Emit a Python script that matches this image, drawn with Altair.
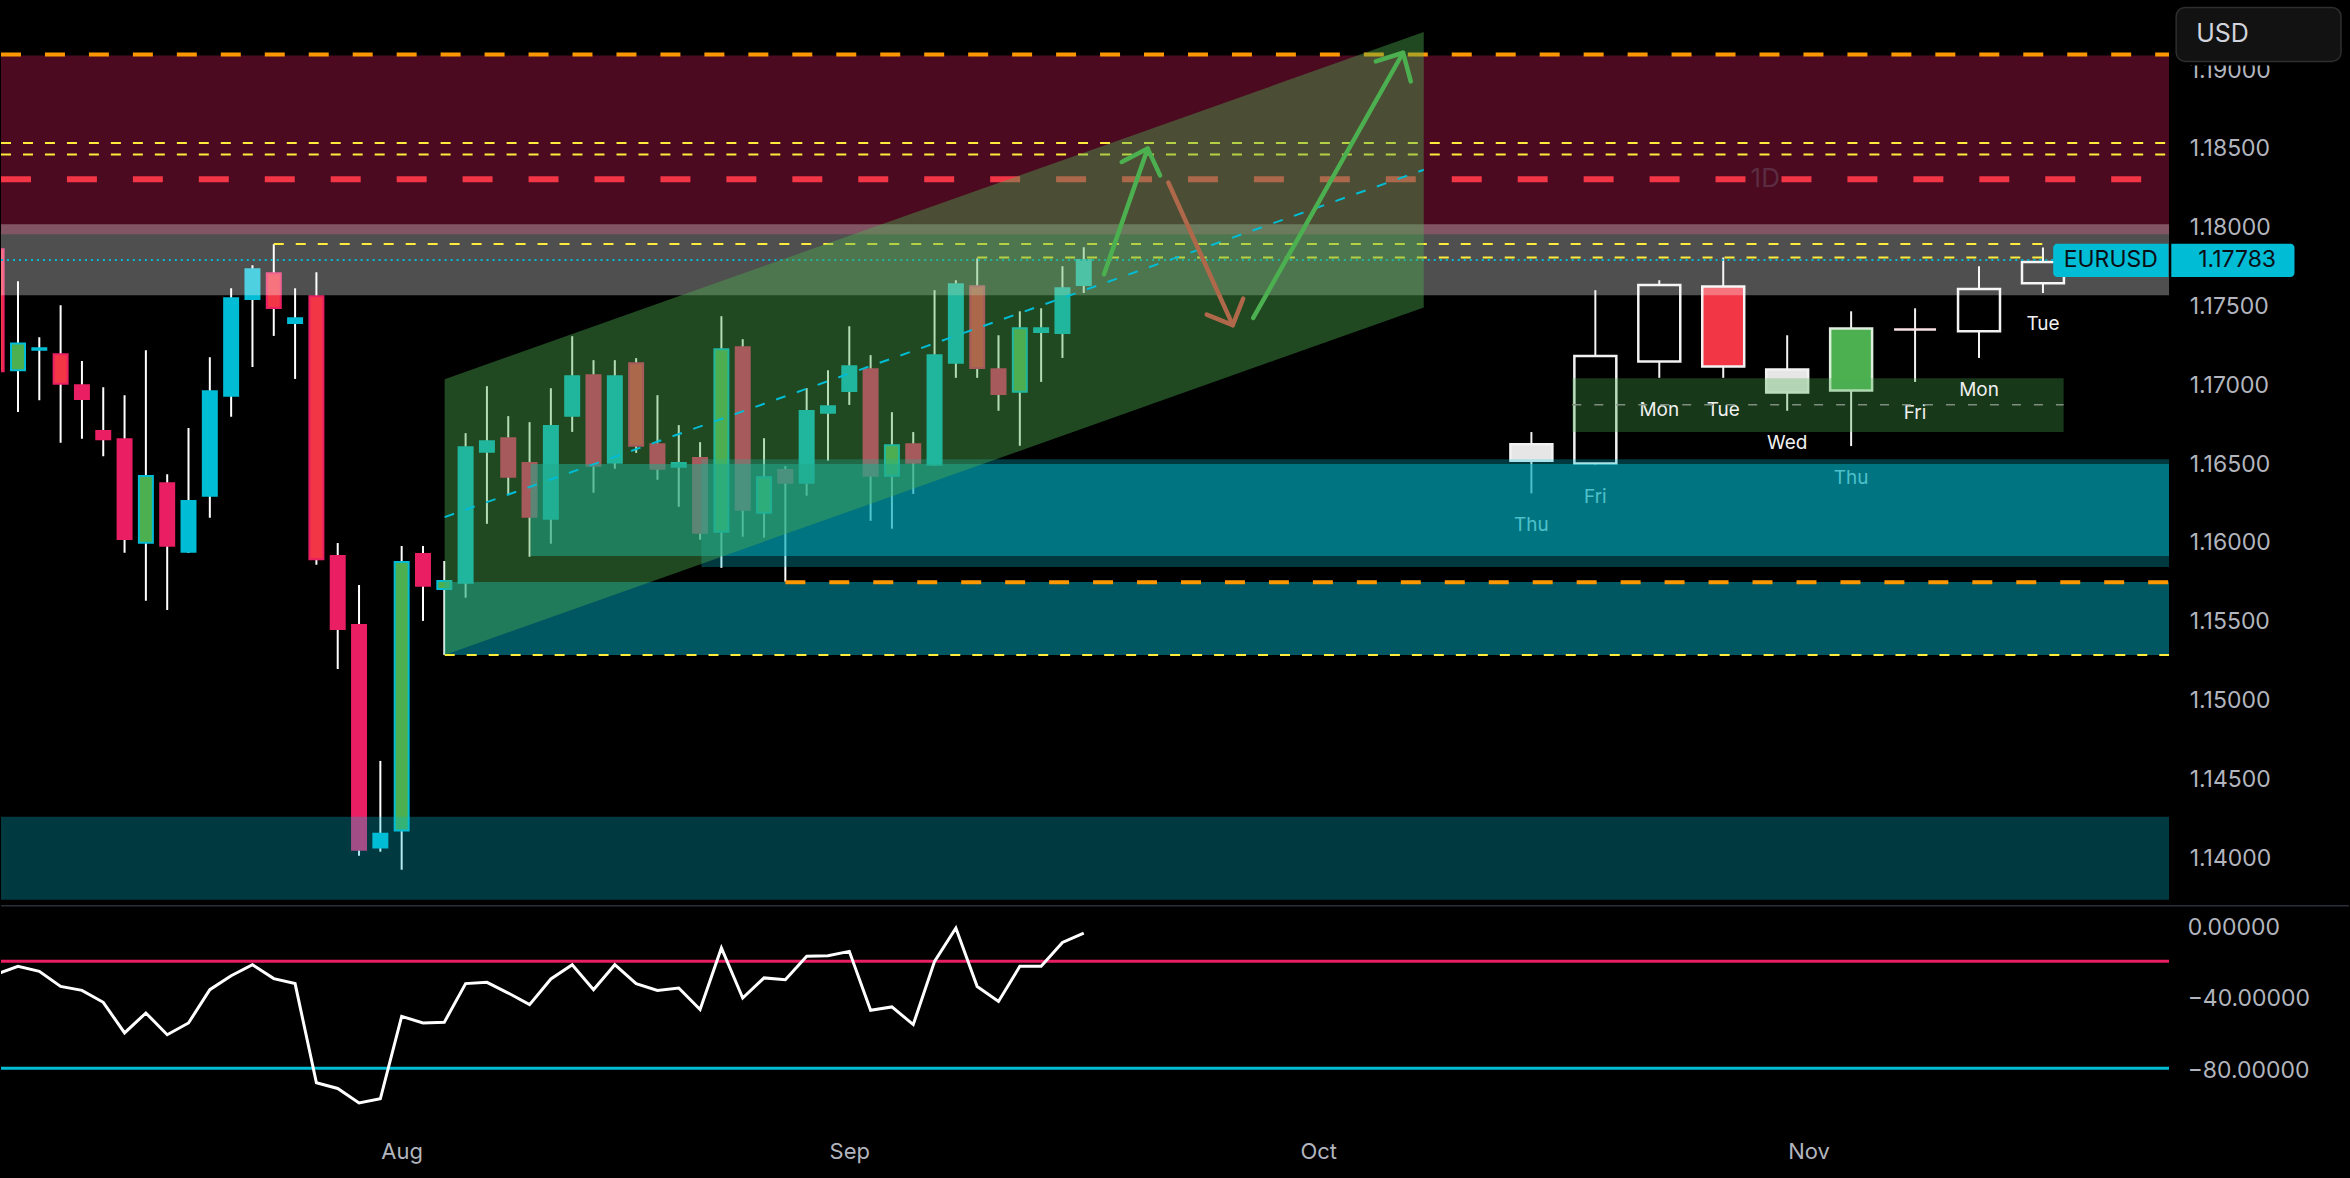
import altair as alt
import pandas as pd

# ---------------- data ----------------
# bar index: 0 = 1 Aug (daily trading bars)
bar_index = list(range(-19, 33))
opens = [1.17850, 1.17083, 1.17213, 1.17185, 1.16988, 1.16697, 1.16646, 1.15989, 1.16367, 1.15932,
         1.16287, 1.16921, 1.17535, 1.17698, 1.17383, 1.17552, 1.15905, 1.15467, 1.14056, 1.14164,
         1.15917, 1.15695, 1.15735, 1.16566, 1.16652, 1.16494, 1.16141, 1.16794, 1.17052, 1.16496,
         1.17128, 1.16614, 1.16471, 1.16526, 1.16059, 1.17229, 1.16179, 1.16450, 1.16369, 1.16813,
         1.16952, 1.17090, 1.16414, 1.16614, 1.16483, 1.17130, 1.17616, 1.17090, 1.16946, 1.17326,
         1.17320, 1.17624]
highs = [1.17939, 1.17648, 1.17293, 1.17495, 1.17141, 1.16976, 1.16925, 1.17210, 1.16424, 1.16716,
         1.17166, 1.17603, 1.17749, 1.17882, 1.17603, 1.17705, 1.15987, 1.15721, 1.14605, 1.15968,
         1.15968, 1.15873, 1.16684, 1.16982, 1.16792, 1.16754, 1.16969, 1.17299, 1.17147, 1.17147,
         1.17160, 1.16925, 1.16735, 1.16627, 1.17426, 1.17280, 1.16652, 1.16475, 1.16969, 1.17083,
         1.17362, 1.17179, 1.16817, 1.16691, 1.17591, 1.17654, 1.17793, 1.17305, 1.17457, 1.17476,
         1.17743, 1.17863]
lows = [1.16988, 1.16819, 1.16893, 1.16623, 1.16648, 1.16538, 1.15925, 1.15621, 1.15562, 1.15924,
        1.16147, 1.16788, 1.17104, 1.17301, 1.17028, 1.15850, 1.15188, 1.14003, 1.14029, 1.13914,
        1.15493, 1.15277, 1.15640, 1.16109, 1.16291, 1.15900, 1.15983, 1.16692, 1.16306, 1.16458,
        1.16559, 1.16388, 1.16217, 1.16008, 1.15830, 1.16027, 1.16021, 1.15742, 1.16287, 1.16509,
        1.16863, 1.16128, 1.16078, 1.16299, 1.16477, 1.17035, 1.17035, 1.16826, 1.16604, 1.17009,
        1.17161, 1.17573]
closes = [1.17077, 1.17253, 1.17222, 1.16997, 1.16900, 1.16646, 1.16012, 1.16412, 1.15970, 1.16253,
          1.16950, 1.17540, 1.17724, 1.17478, 1.17413, 1.15884, 1.15442, 1.14041, 1.14143, 1.15867,
          1.15716, 1.15746, 1.16595, 1.16633, 1.16407, 1.16154, 1.16729, 1.17045, 1.16477, 1.17045,
          1.16604, 1.16458, 1.16494, 1.16052, 1.17217, 1.16198, 1.16405, 1.16369, 1.16824, 1.16855,
          1.17109, 1.16414, 1.16608, 1.16496, 1.17179, 1.17629, 1.17098, 1.16933, 1.17350, 1.17350,
          1.17603, 1.17783]
# u = up (cyan), d = down (pink), g = green highlight, r = red highlight
bar_style = ["r", "g", "u", "r", "d", "d", "d", "g", "d", "u",
             "u", "u", "u", "r", "u", "r", "d", "d", "u", "g",
             "d", "g", "u", "u", "d", "d", "u", "u", "d", "u",
             "r", "d", "u", "d", "g", "d", "g", "d", "u", "u",
             "u", "d", "g", "d", "u", "u", "r", "d", "g", "u",
             "u", "u"]

williams_r = [-27.2, -22.8, -25.6, -34.1, -36.3, -43.0, -60.2, -49.0, -61.2, -54.6,
              -35.9, -28.1, -21.9, -29.7, -32.5, -88.2, -91.4, -99.5, -97.2, -50.9,
              -54.6, -54.2, -32.5, -31.8, -37.8, -44.3, -29.9, -21.9, -35.9, -21.9,
              -32.5, -36.3, -35.0, -47.1, -12.5, -40.6, -29.3, -30.3, -17.2, -16.8,
              -14.4, -47.5, -45.6, -55.5, -20.0, -1.3, -34.1, -42.5, -22.8, -22.8,
              -9.4, -4.1]
osc_levels = [-20, -80]

# projected "bars pattern" on the right
ghost_index = [53, 56, 59, 62, 65, 68, 71, 74, 77]
ghost_high = [1.16691, 1.17591, 1.17654, 1.17798, 1.17305, 1.17457, 1.17476, 1.17743, 1.17861]
ghost_top = [1.16613, 1.17174, 1.17624, 1.17614, 1.17088, 1.17348, 1.17341, 1.17599, 1.17770]
ghost_bot = [1.16509, 1.16492, 1.17139, 1.17107, 1.16942, 1.16955, 1.17341, 1.17331, 1.17635]
ghost_low = [1.16302, 1.16481, 1.17035, 1.17035, 1.16826, 1.16602, 1.17009, 1.17161, 1.17573]
ghost_kind = ["gray", "hollow", "hollow", "red", "gray", "green", "cross", "hollow", "hollow"]
ghost_day = ["Thu", "Fri", "Mon", "Tue", "Wed", "Thu", "Fri", "Mon", "Tue"]
ghost_label_y = [1.16101, 1.16277, 1.16830, 1.16830, 1.16619, 1.16401, 1.16809, 1.16957, 1.17379]

price_ticks = [1.140, 1.145, 1.150, 1.155, 1.160, 1.165, 1.170, 1.175, 1.180, 1.185, 1.190]
osc_ticks = [0, -40, -80]
month_ticks = [0, 21, 43, 66]
month_labels = ["Aug", "Sep", "Oct", "Nov"]
last_price = 1.17783
symbol = "EURUSD"
currency = "USD"

# zones: x from, x to, price low, price high, colour, opacity
X_MIN, X_MAX = -18.797, 82.92
zone_x0 = [X_MIN, X_MIN, 14.06, 6.05, 2.02, X_MIN, 54.92]
zone_x1 = [X_MAX, X_MAX, X_MAX, X_MAX, X_MAX, X_MAX, 77.97]
zone_lo = [1.17945, 1.17559, 1.15835, 1.15905, 1.15277, 1.13725, 1.16692]
zone_hi = [1.19080, 1.18009, 1.16519, 1.16488, 1.15740, 1.14250, 1.17033]
zone_col = ["#E91E63", "#FFFFFF", "#00BCD4", "#00A5B5", "#00BCD4", "#00BCD4", "#4CAF50"]
zone_op = [0.32, 0.31, 0.30, 0.55, 0.46, 0.30, 0.32]

# channel
chan_x = [2.016, 47.95]
chan_top = [1.17026, 1.19228]
chan_bot = [1.15277, 1.17481]

# arrows (segment id, point order, x, price, colour)
arrow_seg = ["a1", "a1", "a1h", "a1h", "a1h", "b1", "b1", "b1h", "b1h", "b1h", "a2", "a2", "a2h", "a2h", "a2h"]
arrow_x = [32.95, 35.0, 33.78, 35.0, 35.58, 35.97, 38.99, 37.77, 38.99, 39.48, 39.95, 46.98, 45.70, 46.98, 47.34]
arrow_p = [1.17692, 1.18489, 1.18404, 1.18489, 1.18319, 1.18273, 1.17369, 1.17436, 1.17369, 1.17538,
           1.17415, 1.19097, 1.19042, 1.19097, 1.18915]
arrow_col = ["#4CAF50"] * 5 + ["#B0684A"] * 5 + ["#4CAF50"] * 5

# ---------------- scales / axes ----------------
FONT = "Inter"
AXIS_COL = "#B2B5BE"
xs = alt.Scale(domain=[X_MIN, X_MAX], nice=False, zero=False)
ys = alt.Scale(domain=[1.136926, 1.194285], nice=False, zero=False)
os_ = alt.Scale(domain=[-117.81, 11.78], nice=False, zero=False)

price_axis = alt.Axis(orient="right", values=price_ticks, format=".5f", title=None, domain=False,
                      ticks=False, tickSize=0, grid=False, labelAlign="left", labelBaseline="middle",
                      labelPadding=20, labelOffset=2, labelColor=AXIS_COL, labelFont=FONT,
                      labelFontSize=23, labelOverlap=False)
osc_axis = alt.Axis(orient="right", values=osc_ticks, format=".5f", title=None, domain=False,
                    ticks=False, tickSize=0, grid=False, labelAlign="left", labelBaseline="middle",
                    labelPadding=18, labelOffset=2, labelColor=AXIS_COL, labelFont=FONT,
                    labelFontSize=23, labelOverlap=False)
expr = "'" + month_labels[-1] + "'"
for t, lab in reversed(list(zip(month_ticks[:-1], month_labels[:-1]))):
    expr = f"datum.value == {t} ? '{lab}' : ({expr})"
time_axis = alt.Axis(values=month_ticks, labelExpr=expr, title=None, domain=False, ticks=False,
                     tickSize=0, grid=False, labelColor=AXIS_COL, labelFont=FONT, labelFontSize=22,
                     labelPadding=16, labelBaseline="middle", labelOverlap=False, labelFlush=False)


def X(f):
    return alt.X(f, type="quantitative", scale=xs, axis=None)


def Y(f):
    return alt.Y(f, type="quantitative", scale=ys, axis=price_axis)


# ---------------- frames ----------------
FILL = {"u": "#00BCD4", "d": "#E91E63", "g": "#4CAF50", "r": "#F23645"}
STROKE = {"u": "#00BCD4", "d": "#E91E63", "g": "#00BCD4", "r": "#E91E63"}
cd = pd.DataFrame({"i": bar_index, "o": opens, "h": highs, "l": lows, "c": closes, "s": bar_style})
cd["x0"] = cd["i"] - 0.328
cd["x1"] = cd["i"] + 0.328
cd["fill"] = cd["s"].map(FILL)
cd["stroke"] = cd["s"].map(STROKE)

GFILL = {"gray": "#E6E6E6", "hollow": "#000000", "red": "#F23645", "green": "#4CAF50", "cross": "#F8E1E4"}
GSTROKE = {"gray": "#F2F2F2", "hollow": "#F2F2F2", "red": "#F2F2F2", "green": "#DDEEDD", "cross": "#F8E1E4"}
gd = pd.DataFrame({"i": ghost_index, "h": ghost_high, "t": ghost_top, "b": ghost_bot, "l": ghost_low,
                   "k": ghost_kind, "day": ghost_day, "ly": ghost_label_y})
gd["x0"] = gd["i"] - 0.984
gd["x1"] = gd["i"] + 0.984
gd["fill"] = gd["k"].map(GFILL)
gd["stroke"] = gd["k"].map(GSTROKE)

zd = pd.DataFrame({"x0": zone_x0, "x1": zone_x1, "lo": zone_lo, "hi": zone_hi, "col": zone_col, "op": zone_op})
zones_main = zd.iloc[:6]
zone_green = zd.iloc[6:]

chd = pd.DataFrame({"i": chan_x, "top": chan_top, "bot": chan_bot})
chd["mid"] = (chd["top"] + chd["bot"]) / 2
ad = pd.DataFrame({"seg": arrow_seg, "i": arrow_x, "p": arrow_p, "col": arrow_col})
ad["k"] = range(len(ad))


def hline(x0, x1, y, color, width, dash):
    df = pd.DataFrame({"x0": [x0], "x1": [x1], "y": [y]})
    return alt.Chart(df).mark_rule(color=color, strokeWidth=width, strokeDash=dash, clip=True).encode(
        x=X("x0"), x2="x1", y=Y("y"))


# ---------------- top panel ----------------
wicks = alt.Chart(cd).mark_rule(color="#FFFFFF", strokeWidth=2, clip=True).encode(x=X("i"), y=Y("l"), y2="h")
bodies = alt.Chart(cd).mark_rect(strokeWidth=2, clip=True).encode(
    x=X("x0"), x2="x1", y=Y("o"), y2="c",
    fill=alt.Fill("fill:N", scale=None), stroke=alt.Stroke("stroke:N", scale=None))
g_wicks = alt.Chart(gd).mark_rule(color="#F2F2F2", strokeWidth=2, clip=True).encode(x=X("i"), y=Y("l"), y2="h")
g_bodies = alt.Chart(gd).mark_rect(strokeWidth=2.5, clip=True).encode(
    x=X("x0"), x2="x1", y=Y("t"), y2="b",
    fill=alt.Fill("fill:N", scale=None), stroke=alt.Stroke("stroke:N", scale=None))
g_labels = alt.Chart(gd).mark_text(font=FONT, fontSize=19, color="#F0F0F0", align="center",
                                   baseline="middle", clip=True).encode(x=X("i"), y=Y("ly"), text="day:N")


def zone_layer(df):
    return alt.Chart(df).mark_rect(clip=True).encode(
        x=X("x0"), x2="x1", y=Y("lo"), y2="hi",
        fill=alt.Fill("col:N", scale=None), opacity=alt.Opacity("op:Q", scale=None))


lines = [
    hline(X_MIN, X_MAX, 1.19086, "#FF9800", 4, [20, 24]),
    hline(X_MIN, X_MAX, 1.18524, "#FFEB3B", 2, [10, 12]),
    hline(X_MIN, X_MAX, 1.18452, "#FFEB3B", 2, [10, 12]),
    hline(X_MIN, X_MAX, 1.18295, "#F23645", 6, [30, 36]),
    hline(-6, 77, 1.17884, "#FFEB3B", 2, [10, 12]),
    hline(27, 77, 1.17798, "#FFEB3B", 2, [10, 12]),
    hline(X_MIN, X_MAX, last_price, "#00BCD4", 2, [2, 4]),
    hline(18, X_MAX, 1.15739, "#FF9800", 4, [20, 24]),
    hline(2.02, X_MAX, 1.15277, "#FFEB3B", 2, [10, 12]),
    hline(54.92, 77.97, 1.16864, "#7E8E7E", 1.5, [9, 13]),
]

channel = alt.Chart(chd).mark_area(color="#4CAF50", opacity=0.42, clip=True).encode(
    x=X("i"), y=Y("top"), y2="bot")
midline = alt.Chart(chd).mark_line(color="#00BCD4", strokeWidth=2, strokeDash=[10, 12], clip=True).encode(
    x=X("i"), y=Y("mid"))
arrows = alt.Chart(ad).mark_line(strokeWidth=4.5, strokeCap="round", strokeJoin="round", clip=True).encode(
    x=X("i"), y=Y("p"), detail="seg:N", order="k:Q", color=alt.Color("col:N", scale=None))

tf_label = alt.Chart(pd.DataFrame({"i": [63.97], "p": [1.18295], "t": ["1D"]})).mark_text(
    font=FONT, fontSize=26, color="#5C2D42", align="center", baseline="middle").encode(
    x=X("i"), y=Y("p"), text="t:N")

pl = pd.DataFrame({"x0": [77.48], "x1": [82.89], "x2": [83.02], "x3": [88.80],
                   "lo": [last_price - 0.00108], "hi": [last_price + 0.00103],
                   "sym": [symbol], "xs": [80.18], "xp": [86.11], "p": [last_price]})
sym_box = alt.Chart(pl).mark_rect(fill="#00BCD4", cornerRadiusTopLeft=4, cornerRadiusBottomLeft=4).encode(
    x=X("x0"), x2="x1", y=Y("lo"), y2="hi")
price_box = alt.Chart(pl).mark_rect(fill="#00BCD4", cornerRadiusTopRight=4, cornerRadiusBottomRight=4).encode(
    x=X("x2"), x2="x3", y=Y("lo"), y2="hi")
sym_text = alt.Chart(pl).mark_text(font=FONT, fontSize=23, color="#0B0E14", align="center",
                                   baseline="middle").encode(x=X("xs"), y=Y("p"), text="sym:N")
price_text = alt.Chart(pl).mark_text(font=FONT, fontSize=23, color="#0B0E14", align="center",
                                     baseline="middle").encode(
    x=X("xp"), y=Y("p"), text=alt.Text("p:Q", format=".5f"))

cur = pd.DataFrame({"t": [currency]})
usd_mask = alt.Chart(cur).mark_rect(fill="#000000").encode(
    x=alt.value(2172), x2=alt.value(2350), y=alt.value(0), y2=alt.value(65))
usd_box = alt.Chart(cur).mark_rect(fill="#121212", stroke="#2E2E2E", strokeWidth=1.5, cornerRadius=9).encode(
    x=alt.value(2177), x2=alt.value(2342), y=alt.value(7), y2=alt.value(61))
usd_text = alt.Chart(cur).mark_text(font=FONT, fontSize=25, color="#D1D4DC", align="left",
                                    baseline="middle").encode(x=alt.value(2197), y=alt.value(34), text="t:N")

top = alt.layer(
    wicks, bodies, g_wicks, g_bodies, zone_layer(zone_green), g_labels, zone_layer(zones_main),
    *lines, channel, midline, arrows, tf_label, sym_box, price_box, sym_text, price_text,
    usd_mask, usd_box, usd_text,
).properties(width=2170, height=905)

# ---------------- oscillator panel ----------------
od = pd.DataFrame({"i": bar_index, "v": williams_r})
ld = pd.DataFrame({"v": osc_levels, "col": ["#E91E63", "#00BCD4"]})
sep = alt.Chart(pd.DataFrame({"a": [0]})).mark_rule(color="#2A2E39", strokeWidth=1.5).encode(
    x=alt.value(0), x2=alt.value(2350), y=alt.value(1))
lvl = alt.Chart(ld).mark_rule(strokeWidth=3, clip=True).encode(
    y=alt.Y("v:Q", scale=os_, axis=osc_axis), color=alt.Color("col:N", scale=None))
wr = alt.Chart(od).mark_line(color="#FFFFFF", strokeWidth=3, clip=True, strokeJoin="miter").encode(
    x=alt.X("i:Q", scale=xs, axis=time_axis), y=alt.Y("v:Q", scale=os_, axis=osc_axis))

bottom = alt.layer(sep, lvl, wr).properties(width=2170, height=231)

chart = alt.vconcat(top, bottom, spacing=0).properties(
    background="#000000", padding={"left": 0, "top": 0, "right": 0, "bottom": 24}
).configure_view(stroke=None)

chart.save("out.html", embed_options={"renderer": "svg", "actions": False})
